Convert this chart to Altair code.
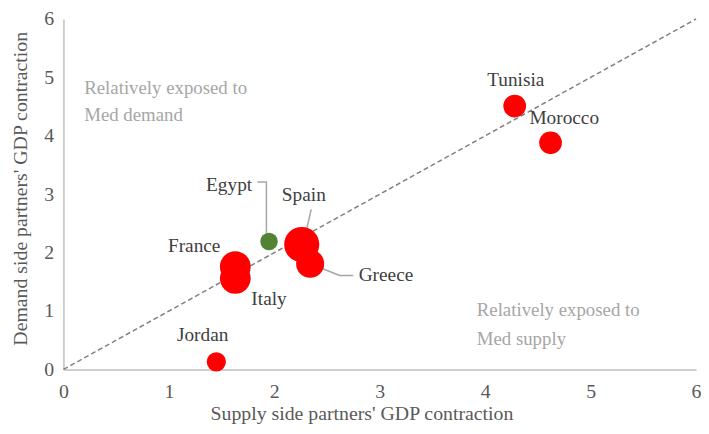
import altair as alt
import pandas as pd

# Bubble data
countries = ["Tunisia", "Morocco", "Jordan", "Egypt", "France", "Italy", "Spain", "Greece"]
supply = [4.28, 4.62, 1.45, 1.95, 1.63, 1.63, 2.26, 2.34]
demand = [4.51, 3.88, 0.13, 2.19, 1.76, 1.56, 2.14, 1.81]
weight = [4.2, 4.2, 3.0, 2.5, 7.7, 7.7, 10.0, 6.4]
group = ["red", "red", "red", "green", "red", "red", "red", "red"]

# Label positions (data units)
label_names = ["Tunisia", "Morocco", "Jordan", "Egypt", "France", "Italy", "Spain", "Greece"]
label_x = [4.29, 4.75, 1.32, 1.79, 1.24, 1.95, 2.28, 2.80]
label_y = [4.95, 4.31, 0.585, 3.16, 2.11, 1.20, 2.99, 1.61]
label_align = ["center", "center", "center", "right", "center", "center", "center", "left"]

# Connector lines (data units)
conn_id = ["Egypt", "Egypt", "Egypt", "Spain", "Spain", "Greece", "Greece", "Greece"]
conn_order = [0, 1, 2, 0, 1, 0, 1, 2]
conn_x = [1.84, 1.925, 1.925, 2.35, 2.28, 2.34, 2.62, 2.75]
conn_y = [3.21, 3.21, 2.27, 2.74, 2.19, 1.81, 1.61, 1.61]

# Region annotations
note_text = ["Relatively exposed to", "Med demand", "Relatively exposed to", "Med supply"]
note_x = [0.197, 0.197, 3.92, 3.92]
note_y = [4.82, 4.35, 1.02, 0.52]

ticks = [0, 1, 2, 3, 4, 5, 6]

FONT = "Liberation Serif"

pts = pd.DataFrame({"country": countries, "supply": supply, "demand": demand,
                    "weight": weight, "group": group})
labs = pd.DataFrame({"name": label_names, "x": label_x, "y": label_y, "align": label_align})
conns = pd.DataFrame({"id": conn_id, "o": conn_order, "x": conn_x, "y": conn_y})
notes = pd.DataFrame({"t": note_text, "x": note_x, "y": note_y})
diag = pd.DataFrame({"x": [0], "y": [0], "x2": [6], "y2": [6]})

xscale = alt.Scale(domain=[0, 6], nice=False, zero=True)
yscale = alt.Scale(domain=[0, 6], nice=False, zero=True)

xaxis = alt.Axis(values=ticks, format="d", grid=False, ticks=False, domainColor="#bfbfbf",
                 domainWidth=1.5,
                 labelFont=FONT, labelFontSize=20, labelColor="#595959", labelPadding=12,
                 labelFlush=False,
                 title="Supply side partners' GDP contraction", titleFont=FONT, titleFontSize=20,
                 titleFontWeight="normal", titleColor="#595959", titleX=301, titleY=45,
                 titleAlign="center", titleBaseline="middle")
yaxis = alt.Axis(values=ticks, format="d", grid=False, ticks=False, domainColor="#bfbfbf",
                 domainWidth=1.5,
                 labelFont=FONT, labelFontSize=20, labelColor="#595959", labelPadding=10,
                 labelFlush=False,
                 title="Demand side partners' GDP contraction", titleFont=FONT, titleFontSize=20,
                 titleFontWeight="normal", titleColor="#595959", titleX=-43, titleY=171,
                 titleAngle=-90, titleAlign="center", titleBaseline="middle")

base_rule = alt.Chart(diag).mark_rule(color="#808080", strokeDash=[5, 3], strokeWidth=1.5).encode(
    x=alt.X("x:Q", scale=xscale, axis=xaxis),
    y=alt.Y("y:Q", scale=yscale, axis=yaxis),
    x2="x2:Q", y2="y2:Q")

note_layer = alt.Chart(notes).mark_text(font=FONT, fontSize=19, color="#a6a6a6",
                                        align="left", baseline="middle").encode(
    x=alt.X("x:Q", scale=xscale), y=alt.Y("y:Q", scale=yscale), text="t:N")

conn_layer = alt.Chart(conns).mark_line(color="#a6a6a6", strokeWidth=1.5).encode(
    x=alt.X("x:Q", scale=xscale), y=alt.Y("y:Q", scale=yscale),
    detail="id:N", order="o:Q")

bubbles = alt.Chart(pts).mark_circle(opacity=1).encode(
    x=alt.X("supply:Q", scale=xscale), y=alt.Y("demand:Q", scale=yscale),
    size=alt.Size("weight:Q", scale=alt.Scale(domain=[0, 10], range=[0, 1257]), legend=None),
    color=alt.Color("group:N", scale=alt.Scale(domain=["red", "green"], range=["#ff0000", "#548235"]),
                    legend=None))

label_layers = []
for al in ["center", "left", "right"]:
    label_layers.append(
        alt.Chart(labs[labs["align"] == al]).mark_text(font=FONT, fontSize=19.5, color="#404040",
                                                      align=al, baseline="middle").encode(
            x=alt.X("x:Q", scale=xscale), y=alt.Y("y:Q", scale=yscale), text="name:N"))

chart = alt.layer(base_rule, note_layer, conn_layer, bubbles, *label_layers).properties(
    width=639, height=354,
    autosize=alt.AutoSizeParams(type="none"),
    padding={"left": 56, "top": 9, "right": 5, "bottom": 55},
).configure_view(stroke=None)

chart.save("out.html", embed_options={"renderer": "svg", "actions": False})
